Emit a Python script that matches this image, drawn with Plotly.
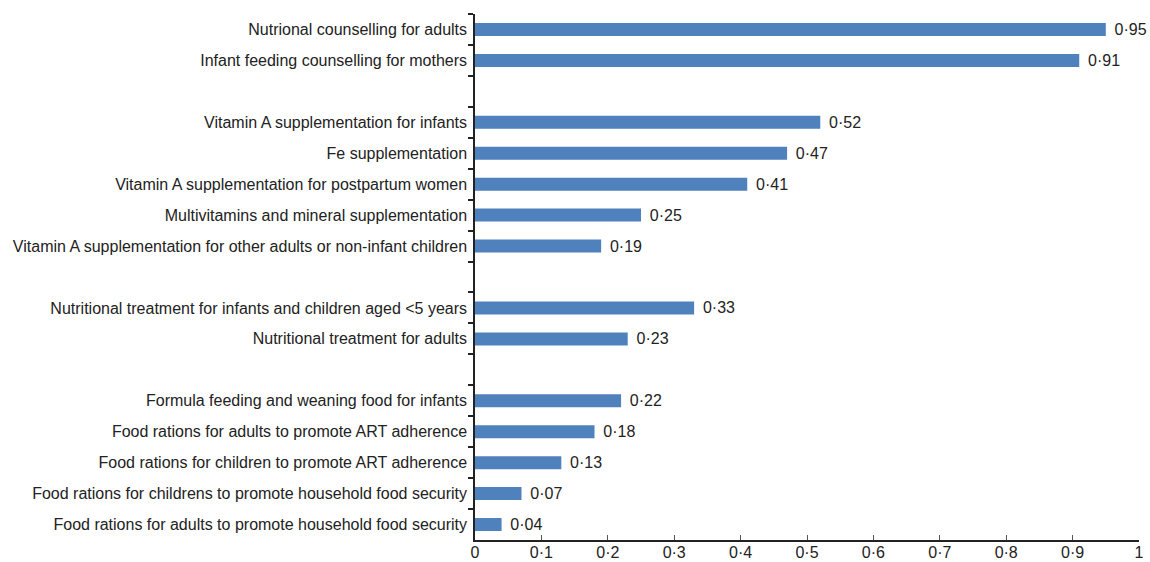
import plotly.graph_objects as go

categories = [
    "Nutrional counselling for adults",
    "Infant feeding counselling for mothers",
    " ",
    "Vitamin A supplementation for infants",
    "Fe supplementation",
    "Vitamin A supplementation for postpartum women",
    "Multivitamins and mineral supplementation",
    "Vitamin A supplementation for other adults or non-infant children",
    "  ",
    "Nutritional treatment for infants and children aged <5 years",
    "Nutritional treatment for adults",
    "   ",
    "Formula feeding and weaning food for infants",
    "Food rations for adults to promote ART adherence",
    "Food rations for children to promote ART adherence",
    "Food rations for childrens to promote household food security",
    "Food rations for adults to promote household food security",
]
values = [0.95, 0.91, None, 0.52, 0.47, 0.41, 0.25, 0.19, None, 0.33, 0.23, None,
          0.22, 0.18, 0.13, 0.07, 0.04]
x_ticks = [0, 0.1, 0.2, 0.3, 0.4, 0.5, 0.6, 0.7, 0.8, 0.9, 1]
x_tick_labels = ["0", "0·1", "0·2", "0·3", "0·4", "0·5", "0·6", "0·7", "0·8", "0·9", "1"]

labels = ["" if v is None else " \u200a" + f"{v:.2f}".replace(".", "·") for v in values]

FONT = "Liberation Sans, Arial, sans-serif"

fig = go.Figure(go.Bar(
    y=categories, x=values, orientation="h",
    marker=dict(color="#4F81BD", line=dict(width=0)),
    width=0.42,
    text=labels, textposition="outside", cliponaxis=False, constraintext="none",
    textfont=dict(size=16, color="#222222", family=FONT),
    hoverinfo="skip",
))

fig.update_layout(
    width=1150, height=562,
    margin=dict(l=475, r=11, t=14, b=22, autoexpand=False),
    plot_bgcolor="white", paper_bgcolor="white",
    showlegend=False,
    font=dict(family=FONT, size=16, color="#222222"),
    xaxis=dict(
        range=[0, 1], tickvals=x_ticks, ticktext=x_tick_labels, automargin=False,
        showgrid=False, zeroline=False, showline=True, linecolor="#222222", linewidth=1.5,
        ticks="inside", ticklen=5, tickcolor="#555555", tickwidth=1,
        tickfont=dict(size=16, family=FONT, color="#222222"), ticklabelstandoff=-3,
    ),
    yaxis=dict(
        type="category", categoryorder="array", categoryarray=categories,
        range=[len(categories) - 0.5, -0.5], automargin=False,
        showgrid=False, zeroline=False, showline=True, linecolor="#222222", linewidth=1.5,
        ticks="outside", ticklen=5, tickcolor="#222222", tickwidth=1.5, tickson="boundaries",
        ticklabelstandoff=3,
    ),
)

fig.write_html(
    "out.html",
    config={"displayModeBar": False},
    post_script="document.body.style.margin='0';document.body.style.overflow='hidden';",
)
